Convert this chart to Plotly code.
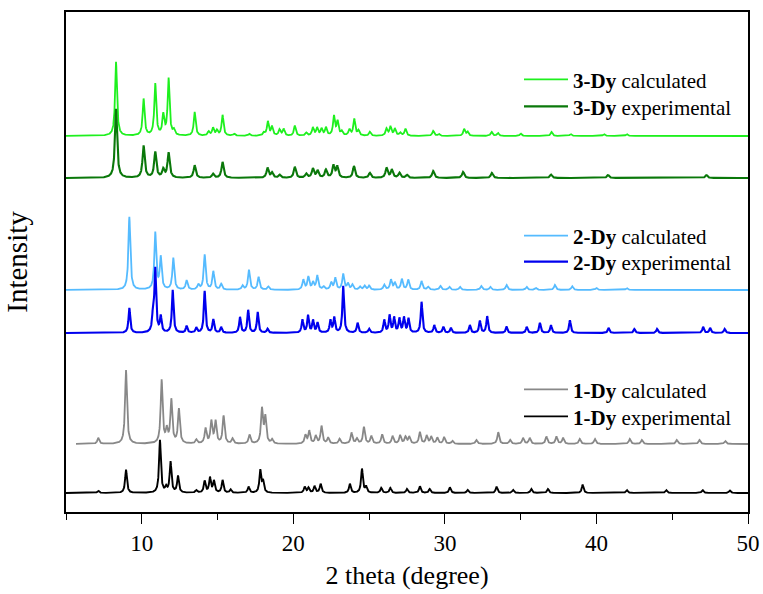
import numpy as np
import plotly.graph_objects as go

# ---------------- data ----------------
x_start, x_end = 5.0, 50.0
calc1_start = 5.66

series_names = ["3-Dy calculated", "3-Dy experimental",
                "2-Dy calculated", "2-Dy experimental",
                "1-Dy calculated", "1-Dy experimental"]
series_labels = ["<b>3-Dy</b> calculated", "<b>3-Dy</b> experimental",
                 "<b>2-Dy</b> calculated", "<b>2-Dy</b> experimental",
                 "<b>1-Dy</b> calculated", "<b>1-Dy</b> experimental"]
series_offsets = [376, 334, 222, 179, 68, 19]

dy3_calc_pos = [8.30, 10.12, 10.89, 11.42, 11.77, 12.12, 13.49, 14.41, 14.70, 14.96, 15.33, 16.1, 17.1,
                18.06, 18.32, 18.59, 19.09, 19.36, 20.10, 20.85, 21.29, 21.57, 21.86, 22.15, 22.68, 22.92,
                23.2, 23.7, 24.02, 24.3, 25.05, 26.15, 26.41, 26.7, 27.05, 27.4, 29.23, 29.6, 31.27, 31.5,
                33.08, 33.5, 35.0, 37.04, 38.3, 40.5, 42.0]
dy3_calc_int = [74, 36.7, 51.7, 20, 56.7, 5, 23.7, 4, 7.7, 5, 20.7, 2, 2,
                3, 14, 9, 6, 6.7, 10, 3, 8, 7.7, 6.7, 8, 19.3, 14,
                4, 6, 16.7, 5, 4, 7, 9, 7, 3, 7, 5, 2, 6.7, 4,
                4, 3, 2.5, 4, 2, 2, 2]

dy3_exp_pos = [8.30, 10.12, 10.89, 11.42, 11.77, 13.49, 14.70, 15.33, 18.30, 18.60, 19.1, 20.10, 20.85,
               21.29, 21.6, 22.15, 22.65, 22.90, 24.0, 25.05, 26.15, 26.5, 27.0, 27.5, 29.23, 31.2, 33.1,
               37.0, 40.77, 47.26]
dy3_exp_int = [69, 32, 25.7, 8, 25, 12.7, 4, 16, 10, 5, 3, 11, 4,
               9, 7, 8, 12, 11, 11.7, 5, 10, 8, 5, 3, 7, 6, 5,
               3.5, 3, 3]

dy2_calc_pos = [9.18, 10.89, 11.25, 12.08, 12.96, 13.73, 14.15, 14.72, 15.24, 16.65, 17.07, 17.71, 18.35,
                20.66, 20.99, 21.3, 21.58, 22.0, 22.5, 22.77, 23.29, 23.6, 23.9, 24.4, 24.7, 25.0, 26.0,
                26.44, 26.7, 27.16, 27.58, 28.46, 28.9, 29.7, 30.3, 31.0, 32.4, 33.0, 34.07, 35.4, 36.0,
                37.26, 38.4, 40.0, 42.0]
dy2_calc_int = [73, 56.7, 32, 31.7, 9.3, 5, 35, 18.3, 5.7, 4, 20, 12.7, 3.3,
                10, 12.7, 7, 14, 3, 7, 11.7, 15.7, 6, 5, 3, 4, 4, 5,
                10, 7, 10.7, 10, 8.7, 3, 4, 3, 3, 4, 3, 5, 3, 2,
                5, 3.7, 2, 2]

dy2_exp_pos = [9.18, 10.75, 10.89, 11.25, 12.04, 12.96, 13.6, 14.15, 14.72, 15.24, 16.48, 17.02, 17.65,
               18.3, 20.6, 20.97, 21.3, 21.6, 22.45, 22.7, 23.29, 24.24, 25.0, 26.0, 26.35, 26.65, 27.0,
               27.3, 27.6, 28.46, 29.3, 29.9, 30.4, 31.65, 32.31, 32.79, 34.07, 35.4, 36.27, 37.0, 38.25,
               40.8, 42.5, 44.0, 47.04, 47.5, 48.46]
dy2_exp_int = [25, 20, 62, 16, 42.7, 6.7, 5, 41.7, 13.3, 5.7, 15.7, 22.7, 20.7,
               4, 13, 17.3, 12.3, 10, 12.3, 15, 46.7, 10, 4, 12.7, 17.3, 15, 14,
               15, 14, 31, 7.7, 6, 5, 7.7, 12, 16.7, 6, 6, 10, 7.7, 12.7,
               5, 4, 4, 6, 5, 4]

dy1_calc_pos = [7.13, 8.96, 11.31, 11.65, 11.95, 12.45, 13.6, 14.21, 14.59, 14.87, 15.40, 15.99, 17.11,
                17.93, 18.15, 18.6, 20.8, 21.05, 21.48, 21.86, 22.3, 23.05, 23.84, 24.2, 24.66, 25.15,
                25.86, 26.55, 27.05, 27.4, 27.65, 28.35, 28.8, 29.1, 29.5, 29.95, 30.5, 32.08, 33.52, 34.3,
                35.16, 35.6, 36.7, 37.36, 37.8, 38.9, 39.9, 42.2, 43.0, 45.3, 46.8, 48.5]
dy1_calc_int = [6, 73.7, 63.3, 13, 43.3, 34.3, 4, 15, 22, 22, 27.7, 5, 9,
                34.3, 26, 4, 8.3, 12.7, 7.7, 17.7, 6, 5, 11, 5, 16.7, 7.7,
                9.3, 7.7, 8.3, 6.7, 7, 11.7, 8, 7, 6, 6.7, 3, 4, 11.7, 4,
                6, 6, 7.3, 7.3, 6, 5, 5, 5, 4, 4, 4, 3]

dy1_exp_pos = [7.13, 8.96, 11.20, 11.6, 11.90, 12.39, 13.6, 14.15, 14.50, 14.76, 15.33, 15.86, 17.05,
               17.82, 18.0, 20.75, 21.0, 21.4, 21.8, 23.73, 24.53, 24.8, 25.8, 26.4, 27.5, 28.35, 29.0,
               30.33, 31.5, 33.41, 34.5, 35.7, 36.8, 39.09, 42.0, 44.6, 47.0, 48.8]
dy1_exp_int = [2.3, 23.3, 52.7, 5, 30.7, 16.7, 2.5, 11.7, 15, 11.7, 12.7, 3.3, 6,
               22.3, 11, 6, 5, 6.7, 9, 9, 24, 6, 5, 5, 4, 6.7, 4,
               5.7, 3, 6.3, 3, 4, 4, 8.3, 3, 3, 3, 2.5]

x_ticks = [10, 20, 30, 40, 50]
x_minor_ticks = [5, 15, 25, 35, 45]

# ---------------- styles ----------------
colors = ["#1EF01E", "#0A780A", "#55BBFF", "#0000EE", "#888888", "#000000"]
widths = [0.15, 0.17, 0.15, 0.13, 0.15, 0.14]
line_w = [1.8, 2.1, 1.8, 2.1, 1.8, 1.9]
starts = [x_start, x_start, x_start, x_start, calc1_start, x_start]
peaks = [(dy3_calc_pos, dy3_calc_int), (dy3_exp_pos, dy3_exp_int),
         (dy2_calc_pos, dy2_calc_int), (dy2_exp_pos, dy2_exp_int),
         (dy1_calc_pos, dy1_calc_int), (dy1_exp_pos, dy1_exp_int)]
legend_rows_py = [79.7, 106.7, 236, 262, 389.7, 416.7]

L, R, T, B = 66, 15, 12, 82
W, H = 763, 594
pw, ph = W - L - R, H - T - B

FONT = "Liberation Serif"


def profile(x, pos, inten, w):
    x = x[:, None]
    p = np.asarray(pos)[None, :]
    h = np.asarray(inten)[None, :]
    return (h / (1.0 + ((x - p) / (w / 2.0)) ** 2)).sum(axis=1)


fig = go.Figure()
layout_legends = {}
for i in range(6):
    x = np.arange(starts[i], x_end + 1e-9, 0.01)
    y = series_offsets[i] + profile(x, peaks[i][0], peaks[i][1], widths[i])
    lname = "legend" if i == 0 else f"legend{i + 1}"
    fig.add_trace(go.Scatter(x=x, y=y, mode="lines", name=series_labels[i],
                             line=dict(color=colors[i], width=line_w[i]),
                             legend=lname, hoverinfo="skip"))
    layout_legends[lname] = dict(
        x=(519 - L) / pw, xanchor="left",
        y=(H - B - legend_rows_py[i]) / ph, yanchor="middle",
        bgcolor="rgba(0,0,0,0)", borderwidth=0,
        font=dict(family=FONT, size=21, color="black"),
        itemwidth=44,
    )

fig.update_layout(
    width=W, height=H,
    margin=dict(l=L, r=R, t=T, b=B, autoexpand=False),
    paper_bgcolor="white", plot_bgcolor="white",
    showlegend=True,
    font=dict(family=FONT, color="black"),
    xaxis=dict(
        range=[x_start, x_end], tickvals=x_ticks,
        showline=True, mirror=True, linecolor="black", linewidth=1.6,
        ticks="outside", ticklen=10, tickwidth=1.4, tickcolor="black",
        minor=dict(tickvals=x_minor_ticks, ticks="outside", ticklen=6,
                   tickwidth=1.4, tickcolor="black"),
        showgrid=False, zeroline=False, automargin=False,
        tickfont=dict(family=FONT, size=23, color="black"),
        title=dict(text="2 theta (degree)", font=dict(family=FONT, size=26, color="black"),
                   standoff=10),
    ),
    yaxis=dict(
        range=[0, 500], showticklabels=False, ticks="",
        showline=True, mirror=True, linecolor="black", linewidth=1.6,
        showgrid=False, zeroline=False, automargin=False,
        title=dict(text="Intensity", font=dict(family=FONT, size=29, color="black"),
                   standoff=28),
    ),
    **layout_legends,
)

fig.write_html("out.html", config={"displayModeBar": False},
               post_script="document.body.style.margin='0';document.body.style.overflow='hidden';")
